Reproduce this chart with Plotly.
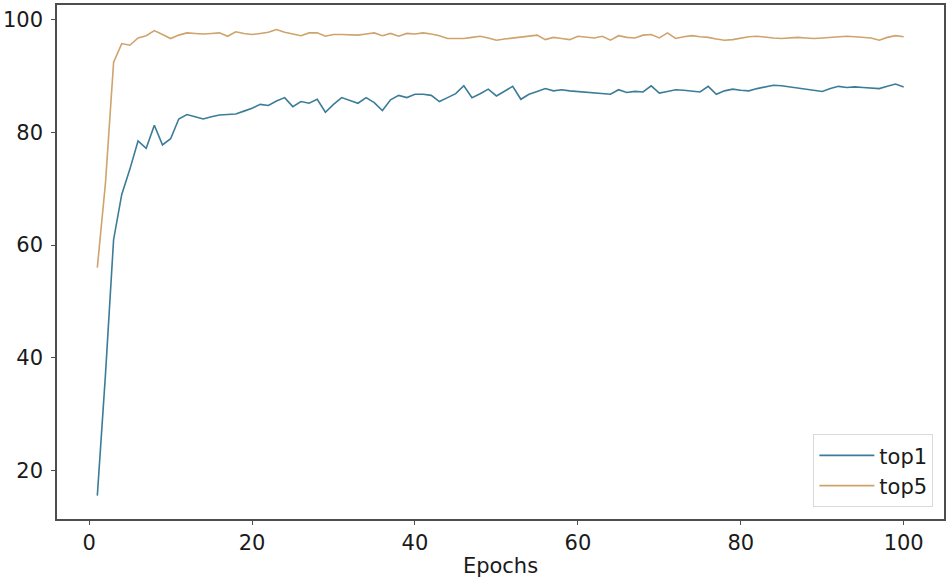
import plotly.graph_objects as go

epochs = list(range(1, 101))

top1 = [15.5, 37.0, 61.0, 69.0, 73.5, 78.5, 77.2, 81.3, 77.8, 78.9,
        82.4, 83.2, 82.8, 82.4, 82.8, 83.1, 83.2, 83.3, 83.8, 84.3,
        85.0, 84.8, 85.6, 86.2, 84.6, 85.5, 85.2, 85.9, 83.6, 85.0,
        86.2, 85.7, 85.2, 86.2, 85.3, 83.9, 85.8, 86.6, 86.2, 86.8,
        86.8, 86.6, 85.5, 86.2, 86.9, 88.3, 86.2, 86.9, 87.7, 86.5,
        87.3, 88.2, 85.9, 86.8, 87.3, 87.8, 87.4, 87.6, 87.4, 87.3,
        87.1, 87.0, 86.9, 86.8, 87.6, 87.1, 87.3, 87.2, 88.3, 87.0,
        87.3, 87.6, 87.5, 87.4, 87.2, 88.2, 86.8, 87.4, 87.7, 87.5,
        87.4, 87.8, 88.1, 88.4, 88.3, 88.1, 87.9, 87.7, 87.5, 87.3,
        87.8, 88.2, 88.0, 88.1, 88.0, 87.9, 87.8, 88.2, 88.6, 88.1]

top5 = [56.0, 71.0, 92.5, 95.8, 95.5, 96.8, 97.2, 98.1, 97.4, 96.7,
        97.3, 97.7, 97.6, 97.5, 97.6, 97.7, 97.1, 97.9, 97.6, 97.4,
        97.6, 97.8, 98.3, 97.8, 97.5, 97.2, 97.7, 97.7, 97.1, 97.4,
        97.4, 97.4, 97.3, 97.5, 97.7, 97.2, 97.6, 97.1, 97.6, 97.5,
        97.7, 97.5, 97.2, 96.7, 96.7, 96.7, 96.9, 97.1, 96.8, 96.4,
        96.6, 96.8, 97.0, 97.1, 97.3, 96.5, 96.9, 96.7, 96.5, 97.1,
        96.9, 96.8, 97.1, 96.4, 97.2, 96.9, 96.8, 97.3, 97.4, 96.8,
        97.7, 96.7, 97.0, 97.2, 97.0, 96.9, 96.6, 96.4, 96.5, 96.8,
        97.0, 97.1, 96.9, 96.8, 96.7, 96.8, 96.9, 96.8, 96.7, 96.8,
        96.9, 97.0, 97.1, 97.0, 96.9, 96.8, 96.4, 96.9, 97.2, 97.0]

x_ticks = [0, 20, 40, 60, 80, 100]
y_ticks = [20, 40, 60, 80, 100]

FONT = "DejaVu Sans"
TXT = "#1a1a1a"

fig = go.Figure()
fig.add_trace(go.Scatter(x=epochs, y=top1, mode="lines", name="top1",
                         line=dict(color="#3b7c98", width=1.6)))
fig.add_trace(go.Scatter(x=epochs, y=top5, mode="lines", name="top5",
                         line=dict(color="#cfa36c", width=1.6)))

axis_common = dict(showline=True, mirror=True, linecolor="#4d4d4d", linewidth=1.5,
                   showgrid=False, zeroline=False, ticks="outside", ticklen=4,
                   tickcolor="#4d4d4d", tickwidth=1,
                   tickfont=dict(family=FONT, size=21, color=TXT))

fig.update_layout(
    width=950, height=584,
    margin=dict(l=56, r=6, t=3, b=65),
    paper_bgcolor="white", plot_bgcolor="white",
    xaxis=dict(range=[-3.95, 104.95], tickvals=x_ticks,
               title=dict(text="Epochs", font=dict(family=FONT, size=21, color=TXT),
                          standoff=4),
               **axis_common),
    yaxis=dict(range=[11.35, 102.65], tickvals=y_ticks, ticklabelstandoff=4, **axis_common),
    legend=dict(x=0.988, y=0.023, xanchor="right", yanchor="bottom",
                bordercolor="#d9d9d9", borderwidth=1, bgcolor="white",
                itemwidth=55, tracegroupgap=4,
                font=dict(family=FONT, size=21, color=TXT)),
    showlegend=True,
)

fig.write_html("out.html", config={"displayModeBar": False},
               post_script="document.body.style.margin='0';document.body.style.padding='0';")
